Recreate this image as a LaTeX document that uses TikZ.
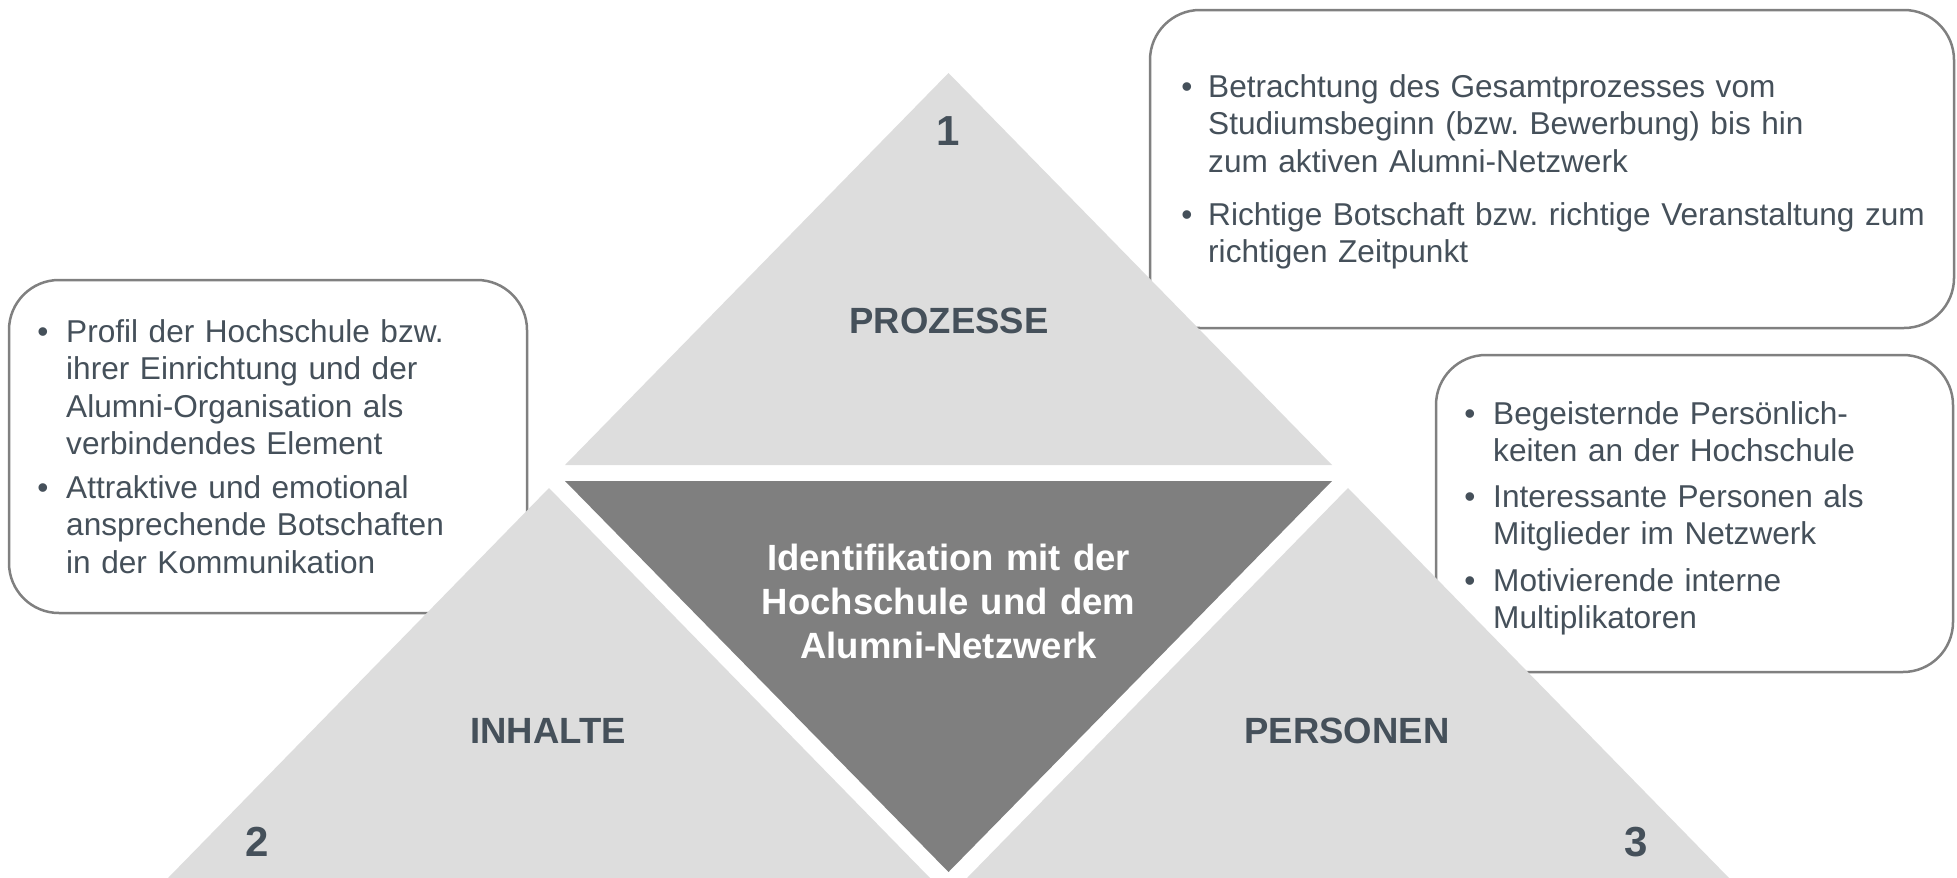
\documentclass[tikz,border=0pt]{standalone}
\usepackage{fontspec}
\setmainfont{Liberation Sans}
\frenchspacing
\definecolor{txt}{RGB}{69,80,90}
\definecolor{facetgray}{RGB}{221,221,221}
\definecolor{coregray}{RGB}{127,127,127}
\definecolor{framegray}{RGB}{128,128,128}
\begin{document}
\begin{tikzpicture}[x=1pt,y=-1pt,
  infobox/.style={draw=framegray, line width=2.5pt, fill=white, rounded corners=50pt},
  facet/.style={fill=facetgray},
  core/.style={fill=coregray},
  bodyfont/.style={font=\fontsize{31.6}{37.5}\selectfont},
  bullettext/.style={bodyfont, anchor=base west, inner sep=0pt, text width=#1, align=left, text=txt},
  bulletmark/.style={bodyfont, anchor=base, inner sep=0pt, text=txt},
  facettitle/.style={anchor=base, inner sep=0pt, text=txt, font=\fontsize{36.5}{44}\selectfont\bfseries},
  facetnum/.style={anchor=base, inner sep=0pt, text=txt, font=\fontsize{42}{50}\selectfont\bfseries},
  coretext/.style={anchor=base, inner sep=0pt, text=white, align=center, text width=420pt, font=\fontsize{36.5}{44}\selectfont\bfseries}
]
\useasboundingbox (0,0) rectangle (1957,878);

% callout boxes (behind the pyramid)
\draw[infobox] (9,280) rectangle (527,613);
\draw[infobox] (1150,10) rectangle (1954,328);
\draw[infobox] (1436,355) rectangle (1953,672);

% pyramid facets
\fill[facet] (948.5,73) -- (565,465) -- (1332,465) -- cycle;
\fill[core] (565,481) -- (1332,481) -- (948.5,872) -- cycle;
\fill[facet] (549,488) -- (168,878) -- (930,878) -- cycle;
\fill[facet] (1348,488) -- (967,878) -- (1729,878) -- cycle;

% facet labels
\node[facetnum] (n1) at (948.5,145) {1};
\node[facetnum] (n2) at (257,856) {2};
\node[facetnum] (n3) at (1636,856) {3};
\node[facettitle] (prozesse) at (949,333) {PROZESSE};
\node[facettitle] (inhalte) at (548,743) {INHALTE};
\node[facettitle] (personen) at (1347,743) {PERSONEN};
\node[coretext] (core) at (948.5,570) {Identifikation mit der\\Hochschule und dem\\Alumni-Netzwerk};

% left box: Inhalte
\node[bulletmark] (lb1) at (43,342) {•};
\node[bullettext=450pt] (lt1) at (66,342) {Profil der Hochschule bzw.\\ihrer Einrichtung und der\\Alumni-Organisation als\\verbindendes Element};
\node[bulletmark] (lb2) at (43,498) {•};
\node[bullettext=450pt] (lt2) at (66,498) {Attraktive und emotional\\ansprechende Botschaften\\in der Kommunikation};

% top right box: Prozesse
\node[bulletmark] (pb1) at (1187,97) {•};
\node[bullettext=730pt] (pt1) at (1208,97) {Betrachtung des Gesamtprozesses vom\\Studiumsbeginn (bzw. Bewerbung) bis hin\\zum aktiven Alumni-Netzwerk};
\node[bulletmark] (pb2) at (1187,225) {•};
\node[bullettext=730pt] (pt2) at (1208,225) {Richtige Botschaft bzw. richtige Veranstaltung zum\\richtigen Zeitpunkt};

% right box: Personen
\node[bulletmark] (rb1) at (1470,424) {•};
\node[bullettext=450pt] (rt1) at (1493,424) {Begeisternde Persönlich-\\keiten an der Hochschule};
\node[bulletmark] (rb2) at (1470,507) {•};
\node[bullettext=450pt] (rt2) at (1493,507) {Interessante Personen als\\Mitglieder im Netzwerk};
\node[bulletmark] (rb3) at (1470,591) {•};
\node[bullettext=450pt] (rt3) at (1493,591) {Motivierende interne\\Multiplikatoren};
\end{tikzpicture}
\end{document}
